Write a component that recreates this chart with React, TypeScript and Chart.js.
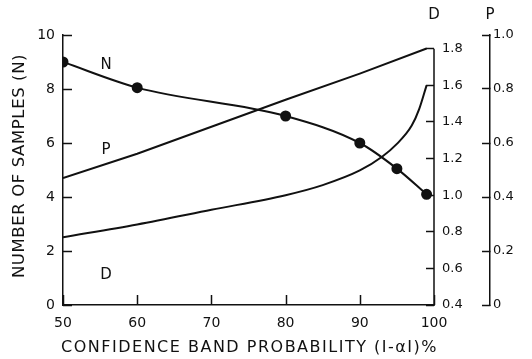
import React, { useEffect, useRef } from "react";
import { Chart, registerables } from "chart.js";

Chart.register(...registerables);

// N: number of samples (left axis)
const nX = [50, 60, 80, 90, 95, 99];
const nY = [9, 8.05, 7.0, 6.0, 5.05, 4.1];
// P (far right axis)
const pX = [50, 60, 70, 80, 90, 99];
const pY = [0.47, 0.56, 0.66, 0.76, 0.857, 0.95];
// D (inner right axis)
const dX = [50, 60, 70, 80, 85, 90, 93, 95, 97, 98, 99];
const dY = [0.77, 0.84, 0.92, 1.0, 1.055, 1.135, 1.21, 1.28, 1.38, 1.47, 1.6];

const xTitle = "CONFIDENCE BAND PROBABILITY (I-\u03b1I)%";
const yTitle = "NUMBER OF SAMPLES (N)";
const dTopTick = 1.8;

const FONT = "'DejaVu Sans', sans-serif";
const INK = "#111";

const curveLabels = [
  { text: "N", x: 55.8, y: 8.9, axis: "y" },
  { text: "P", x: 55.8, y: 5.75, axis: "y" },
  { text: "D", x: 55.8, y: 1.1, axis: "y" },
];

const labelPlugin = {
  id: "curveLabels",
  afterDraw(chart: any) {
    const ctx = chart.ctx;
    const xs = chart.scales.x;
    const ys = chart.scales.y;
    const d = chart.scales.d;
    const p = chart.scales.p;
    const area = chart.chartArea;
    ctx.save();
    // inward tick marks on the bottom and left axes, D axis line
    ctx.strokeStyle = INK;
    ctx.lineWidth = 1.5;
    ctx.beginPath();
    for (const t of xs.ticks) {
      const px = Math.round(xs.getPixelForValue(t.value)) + 0.5;
      ctx.moveTo(px, area.bottom);
      ctx.lineTo(px, area.bottom - 10);
    }
    for (const t of ys.ticks) {
      const py = Math.round(ys.getPixelForValue(t.value)) + 0.5;
      ctx.moveTo(area.left, py);
      ctx.lineTo(area.left + 9, py);
    }
    ctx.moveTo(d.left, d.getPixelForValue(dTopTick));
    ctx.lineTo(d.left, area.bottom + 0.75);
    ctx.stroke();

    ctx.fillStyle = INK;
    ctx.font = `15px ${FONT}`;
    ctx.textAlign = "center";
    ctx.textBaseline = "middle";
    for (const l of curveLabels) {
      const s = chart.scales[l.axis];
      ctx.fillText(l.text, xs.getPixelForValue(l.x), s.getPixelForValue(l.y));
    }
    // axis headers
    ctx.fillText("D", d.left, area.top - 20);
    ctx.fillText("P", p.left, area.top - 20);

    // axis titles
    (ctx as any).letterSpacing = "1.5px";
    ctx.font = `16px ${FONT}`;
    ctx.fillText(xTitle, (area.left + area.right) / 2 + 1, chart.height - 11);
    (ctx as any).letterSpacing = "0.6px";
    ctx.font = `16.5px ${FONT}`;
    ctx.translate(20, (area.top + area.bottom) / 2 - 4);
    ctx.rotate(-Math.PI / 2);
    ctx.fillText(yTitle, 0, 0);
    ctx.restore();
  },
};

export default function App() {
  const ref = useRef<HTMLCanvasElement | null>(null);
  useEffect(() => {
    document.body.style.margin = "0";
    const toXY = (xs: number[], ys: number[]) => xs.map((x, i) => ({ x, y: ys[i] }));
    const chart = new Chart(ref.current as HTMLCanvasElement, {
      type: "line",
      data: {
        datasets: [
          {
            label: "N",
            data: toXY(nX, nY),
            yAxisID: "y",
            borderColor: INK,
            backgroundColor: INK,
            borderWidth: 2,
            pointRadius: 4.5,
            pointBackgroundColor: INK,
            cubicInterpolationMode: "monotone",
          },
          {
            label: "P",
            data: toXY(pX, pY),
            yAxisID: "p",
            borderColor: INK,
            borderWidth: 2,
            pointRadius: 0,
            tension: 0,
          },
          {
            label: "D",
            data: toXY(dX, dY),
            yAxisID: "d",
            borderColor: INK,
            borderWidth: 2,
            pointRadius: 0,
            cubicInterpolationMode: "monotone",
          },
        ],
      },
      options: {
        animation: false,
        responsive: true,
        maintainAspectRatio: false,
        layout: { padding: { top: 35, left: 0, right: 0, bottom: 0 } },
        plugins: { legend: { display: false }, tooltip: { enabled: false } },
        scales: {
          x: {
            type: "linear",
            min: 50,
            max: 100,
            ticks: { stepSize: 10, color: INK, font: { family: FONT, size: 14 }, padding: 10, maxRotation: 0 },
            grid: { drawOnChartArea: false, drawTicks: false },
            border: { color: INK, width: 1.5 },
            afterFit: (s: any) => { s.height = 54; },
          },
          y: {
            position: "left",
            min: 0,
            max: 10,
            ticks: { stepSize: 2, color: INK, font: { family: FONT, size: 14 }, padding: 8 },
            grid: { drawOnChartArea: false, drawTicks: false },
            border: { color: INK, width: 1.5 },
            afterFit: (s: any) => { s.width = 63; },
          },
          d: {
            position: "right",
            weight: 0,
            min: 0.4,
            max: 1.875,
            ticks: {
              stepSize: 0.2,
              includeBounds: false,
              color: INK,
              font: { family: FONT, size: 13 },
              padding: 16,
              callback: (v: any) => Number(v).toFixed(1),
            },
            grid: { drawOnChartArea: false, tickLength: -8, color: INK, tickWidth: 1.5 },
            border: { display: false },
            afterFit: (s: any) => { s.width = 56; },
          },
          p: {
            position: "right",
            weight: 1,
            min: 0,
            max: 1,
            ticks: {
              stepSize: 0.2,
              color: INK,
              font: { family: FONT, size: 13 },
              padding: 11,
              callback: (v: any) => (Number(v) === 0 ? "0" : Number(v).toFixed(1)),
            },
            grid: { drawOnChartArea: false, tickLength: -8, color: INK, tickWidth: 1.5 },
            border: { color: INK, width: 1.5 },
            afterFit: (s: any) => { s.width = 42; },
          },
        },
      } as any,
      plugins: [labelPlugin],
    });
    return () => chart.destroy();
  }, []);
  return (
    <div style={{ width: 532, height: 359, position: "relative", background: "#fff" }}>
      <canvas ref={ref} />
    </div>
  );
}
